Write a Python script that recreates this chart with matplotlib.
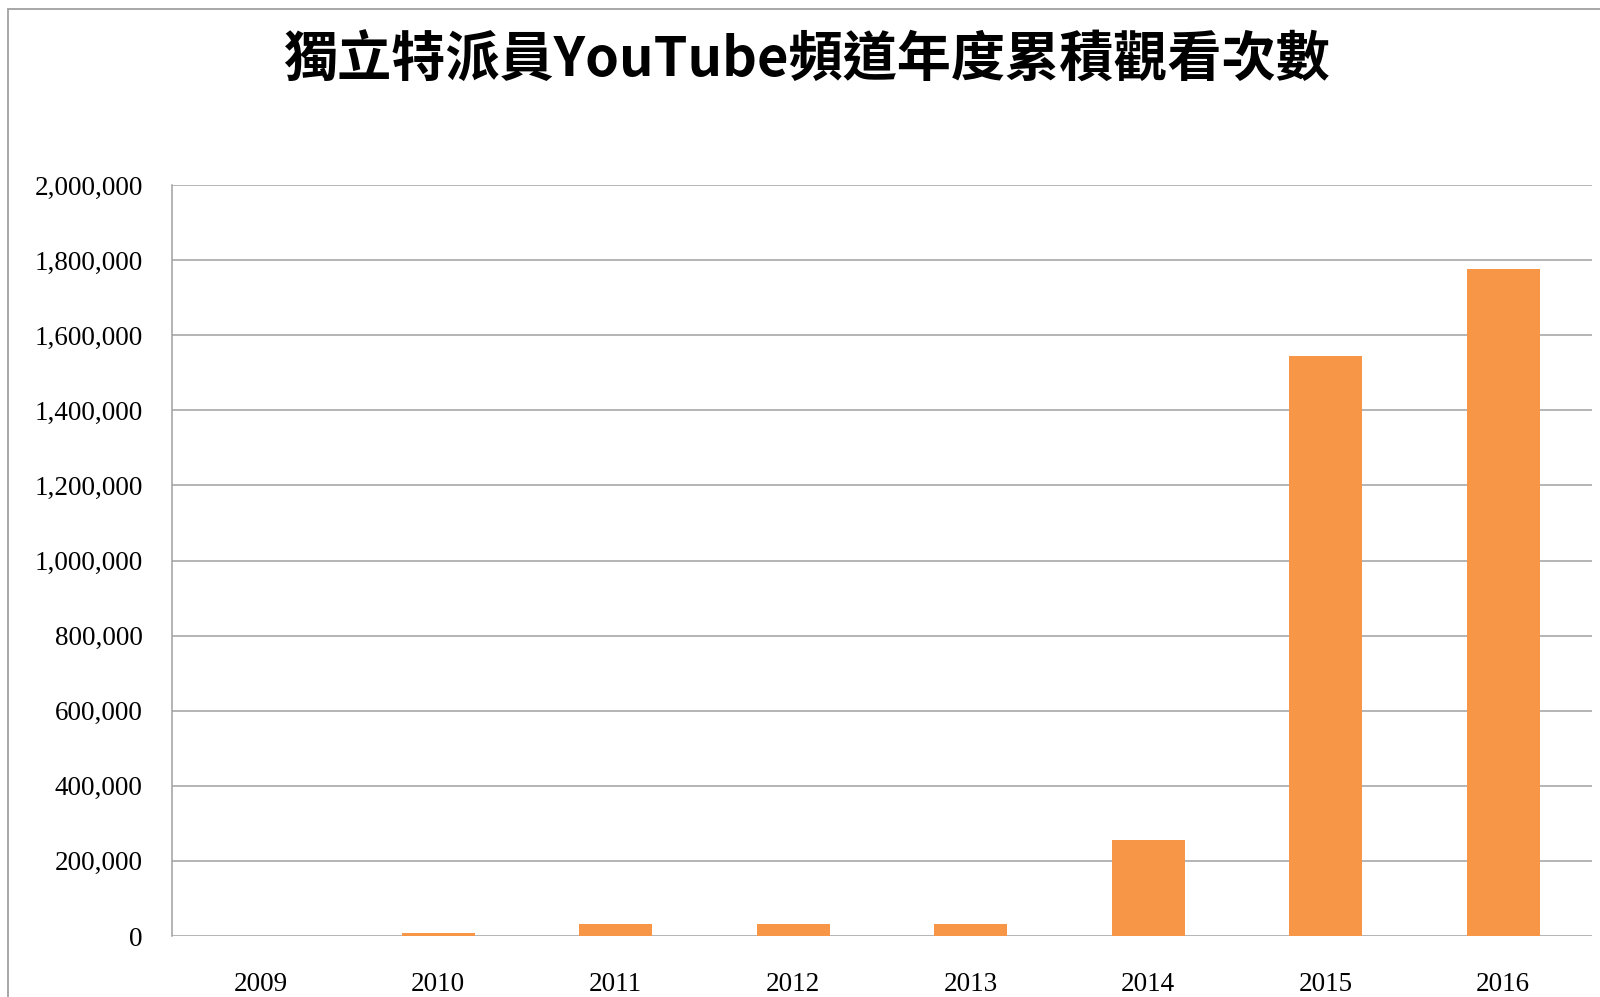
import matplotlib
matplotlib.use("Agg")
import matplotlib.pyplot as plt
from matplotlib.patches import Rectangle
from matplotlib.ticker import FuncFormatter

years = ["2009", "2010", "2011", "2012", "2013", "2014", "2015", "2016"]
views = [0, 8000, 32000, 32000, 32000, 255000, 1545000, 1775000]
title = "獨立特派員YouTube頻道年度累積觀看次數"

W, H = 1600, 997
fig = plt.figure(figsize=(W / 100, H / 100), dpi=100)
fig.patch.set_facecolor("white")

# outer frame (cropped on right/bottom)
fig.patches.append(Rectangle((8 / W, -0.2), 2.0, (1 - 9 / H) + 0.2,
                             transform=fig.transFigure, fill=False,
                             edgecolor="#A0A0A0", linewidth=1.3))

ax = fig.add_axes([172 / W, 1 - 936 / H, (1592 - 172) / W, (936 - 185) / H])
x = range(len(years))
ax.bar(x, views, width=0.41, color="#F79646", zorder=3)
ax.set_xlim(-0.5, len(years) - 0.5)
ax.set_ylim(0, 2000000)
ax.set_yticks(range(0, 2000001, 200000))
ax.yaxis.set_major_formatter(FuncFormatter(lambda v, p: f"{int(v):,}"))
ax.set_xticks(list(x))
ax.set_xticklabels(years)
ax.grid(axis="y", color="#A0A0A0", linewidth=1.1, zorder=0)
for s in ["top", "right", "bottom"]:
    ax.spines[s].set_visible(False)
ax.spines["left"].set_color("#A0A0A0")
ax.spines["left"].set_linewidth(1.1)
ax.tick_params(axis="both", length=0, labelsize=19.5, colors="black")
ax.tick_params(axis="y", pad=21)
ax.tick_params(axis="x", pad=26)
for lab in ax.get_xticklabels() + ax.get_yticklabels():
    lab.set_family("Liberation Serif")

fig.text(806 / W, 1 - 61 / H, title, ha="center", va="center",
         fontsize=39, fontweight="bold",
         family=["Noto Sans CJK TC", "DejaVu Sans"])

fig.savefig("out.png", dpi=100)
